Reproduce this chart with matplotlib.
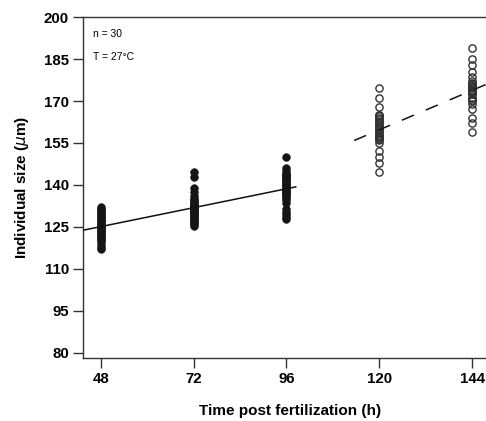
import numpy as np
import matplotlib
matplotlib.use("Agg")
import matplotlib.pyplot as plt

plt.rcParams['font.family'] = ['Liberation Sans', 'DejaVu Sans']

# sizes (um) of the 30 individuals per sampling time
time_fed = [48, 72, 96]
size_48 = [117, 118, 119, 120, 120.5, 121, 121.5, 122, 122.5, 123, 123.5, 124, 124.5, 125, 125,
           125, 125.5, 126, 126.5, 127, 127.5, 128, 128.5, 129, 129.5, 130, 130.5, 131, 131.5, 132]
size_72 = [125.5, 126, 126.5, 127, 127.5, 127.5, 128, 128.5, 129, 129.5, 129.5, 130, 130.5, 130.5, 131,
           131.5, 131.5, 132, 132.5, 133, 133, 133.5, 134, 134.5, 135, 136, 137.5, 139, 143, 144.5]
size_96 = [128, 128.5, 129.5, 130.5, 131.5, 133.5, 134.5, 135.5, 136, 136.5, 137, 137.5, 138, 138.5, 139,
           139.5, 140, 140.5, 141, 141.5, 142, 142.5, 143, 143.5, 144, 143, 144, 145, 146, 150]

time_late = [120, 144]
size_120 = [174.5, 171, 168, 165, 165, 164.5, 164, 163.5, 163, 162.5, 162, 161.5, 161, 160.5, 160,
            159.5, 159, 158.5, 158, 157.5, 157, 156.5, 157, 156.5, 156, 155, 152, 150, 148, 144.5]
size_144 = [189, 185, 183, 180.5, 178.5, 177, 176.5, 176, 176, 175.5, 175.5, 175, 175, 174.5, 174,
            174, 173.5, 173, 173.5, 173, 172.5, 171, 171, 170.5, 170, 169, 167, 164, 162, 159]

# x extent of the two regression lines
fit_span_fed = [43.4, 98.4]
fit_span_late = [113.5, 150]

fig = plt.figure(figsize=(4.86, 4.21), dpi=100)
ax = fig.add_axes([0.1708, 0.1496, 0.8292, 0.81])

fed_sizes = [size_48, size_72, size_96]
late_sizes = [size_120, size_144]

for t, s in zip(time_fed, fed_sizes):
    ax.plot([t] * len(s), s, 'o', color='#151515', markersize=5.4, markeredgewidth=0.6, zorder=3)
for t, s in zip(time_late, late_sizes):
    ax.plot([t] * len(s), s, 'o', markerfacecolor='none', markeredgecolor='#333333',
            markersize=5.2, markeredgewidth=1.0, zorder=3)

# linear fits
xf = np.concatenate([[t] * len(s) for t, s in zip(time_fed, fed_sizes)])
yf = np.concatenate(fed_sizes)
k1, b1 = np.polyfit(xf, yf, 1)
xs = np.array(fit_span_fed)
ax.plot(xs, k1 * xs + b1, '-', color='#111111', lw=1.1, zorder=4)

xl = np.concatenate([[t] * len(s) for t, s in zip(time_late, late_sizes)])
yl = np.concatenate(late_sizes)
k2, b2 = np.polyfit(xl, yl, 1)
xs = np.array(fit_span_late)
ax.plot(xs, k2 * xs + b2, color='#111111', lw=1.1, dashes=(8.5, 8.5), zorder=4)

ax.set_xlim(43.4, 147.6)
ax.set_ylim(78.2, 200)
ax.set_xticks([48, 72, 96, 120, 144])
ax.set_yticks([80, 95, 110, 125, 140, 155, 170, 185, 200])

for side in ['left', 'bottom', 'top']:
    ax.spines[side].set_color('#333333')
    ax.spines[side].set_linewidth(1.0)
ax.spines['right'].set_visible(False)
ax.tick_params(direction='out', length=7, width=1.0, color='#333333', pad=3,
               labelsize=10.8, top=False, right=False)
for lab in ax.get_xticklabels() + ax.get_yticklabels():
    lab.set_fontweight('bold')

ax.set_xlabel('Time post fertilization (h)', fontsize=11, fontweight='bold', labelpad=10)
ax.set_ylabel('Individual size ($\\mu$m)', fontsize=11, fontweight='bold', labelpad=9)
ax.xaxis.set_label_coords(0.514, -0.135)

ax.text(0.025, 0.95, 'n = 30', transform=ax.transAxes, fontsize=7.5, va='center')
ax.text(0.025, 0.882, 'T = 27°C', transform=ax.transAxes, fontsize=7.5, va='center')

fig.savefig('out.png', dpi=100)
